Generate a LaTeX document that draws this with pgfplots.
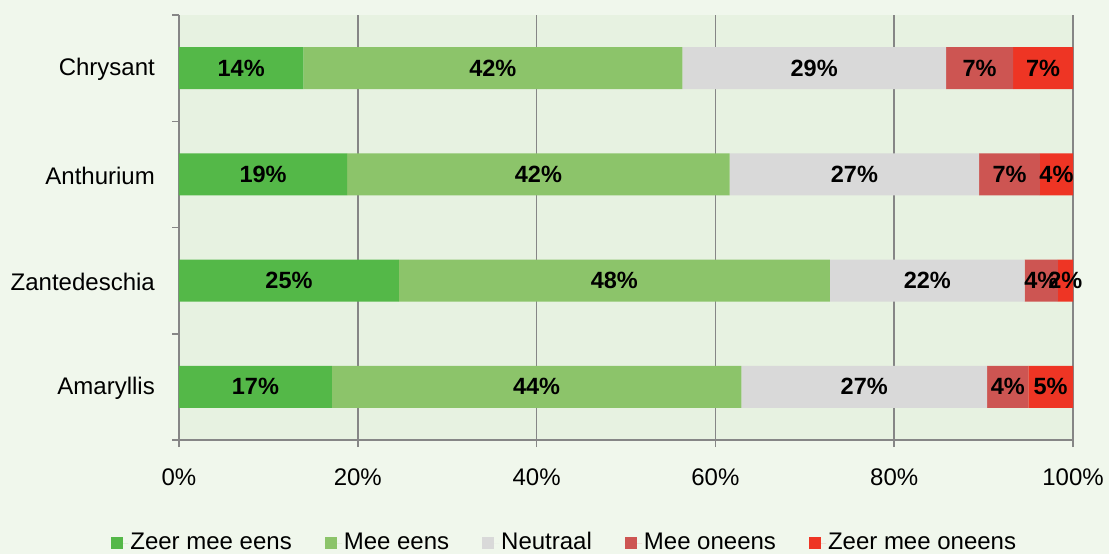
\documentclass[border=0pt]{standalone}
\usepackage{pgfplots}
\pgfplotsset{compat=1.18}
\usepackage{fontspec}
\setmainfont{Liberation Sans}
\definecolor{bgc}{RGB}{240,247,236}
\definecolor{plotbg}{RGB}{231,242,225}
\definecolor{c1}{RGB}{84,184,72}
\definecolor{c2}{RGB}{140,196,106}
\definecolor{c3}{RGB}{217,217,217}
\definecolor{c4}{RGB}{205,85,82}
\definecolor{c5}{RGB}{238,53,36}
\definecolor{axc}{RGB}{134,134,134}
\pgfplotsset{
  common/.style={
    scale only axis, width=894pt, height=425pt,
    at={(179pt,-440pt)}, anchor=south west,
    xmin=0, xmax=100, ymin=-0.5, ymax=3.5, enlargelimits=false,
  }
}
\begin{document}
\fontsize{24}{28}\selectfont
\begin{tikzpicture}
\fill[bgc] (0,0) rectangle (1109pt,-554pt);
\begin{axis}[common,
  xbar stacked, bar width=42pt,
  axis background/.style={fill=plotbg},
  axis x line*=bottom, axis y line*=left,
  axis line style={axc, line width=1.5pt},
  xtick={0,20,40,60,80,100},
  xticklabels={0\%,20\%,40\%,60\%,80\%,100\%},
  xmajorgrids, grid style={axc, line width=1.5pt},
  tick align=outside, major tick length=7pt,
  xtick style={draw=axc, line width=1.5pt},
  ytick={0,1,2,3},
  yticklabels={Amaryllis,Zantedeschia,Anthurium,Chrysant},
  ytick style={draw=none},
  extra y ticks={-0.5,0.5,1.5,2.5,3.5},
  extra y tick labels={},
  extra y tick style={ytick style={draw=axc, line width=1.5pt}, grid=none},
  tick label style={font=\fontsize{24}{28}\selectfont},
  xticklabel style={yshift=-14pt},
  yticklabel style={xshift=-9pt, yshift=-1.5pt},
  legend style={at={(0.4315,-0.2424)}, anchor=center, draw=none, fill=none,
    legend columns=5, font=\fontsize{24}{28}\selectfont,
    /tikz/every even column/.append style={column sep=31pt}},
  legend image code/.code={\fill[#1] (0pt,-6pt) rectangle (12pt,6pt); \path (0pt,0pt) -- (17pt,0pt);},
]
\addplot[fill=c1, draw=none] coordinates {(17.1,0) (24.6,1) (18.8,2) (13.9,3)};
\addplot[fill=c2, draw=none] coordinates {(45.8,0) (48.2,1) (42.8,2) (42.4,3)};
\addplot[fill=c3, draw=none] coordinates {(27.5,0) (21.8,1) (27.9,2) (29.5,3)};
\addplot[fill=c4, draw=none] coordinates {(4.6,0) (3.7,1) (6.8,2) (7.5,3)};
\addplot[fill=c5, draw=none] coordinates {(5.0,0) (1.7,1) (3.7,2) (6.7,3)};
\legend{Zeer mee eens, Mee eens, Neutraal, Mee oneens, Zeer mee oneens}
\end{axis}
\begin{axis}[common, hide axis]
\addplot[draw=none, mark=none, nodes near coords, point meta=explicit symbolic,
  every node near coord/.append style={anchor=center, font=\bfseries\fontsize{23.5}{28}\selectfont, text=black}]
  coordinates {
  (6.95,3) [14\%] (35.1,3) [42\%] (71.05,3) [29\%] (89.55,3) [7\%] (96.65,3) [7\%]
  (9.4,2) [19\%] (40.2,2) [42\%] (75.55,2) [27\%] (92.9,2) [7\%] (98.15,2) [4\%]
  (12.3,1) [25\%] (48.7,1) [48\%] (83.7,1) [22\%] (96.45,1) [4\%] (99.15,1) [2\%]
  (8.55,0) [17\%] (40.0,0) [44\%] (76.65,0) [27\%] (92.7,0) [4\%] (97.5,0) [5\%]
  };
\end{axis}
\pgfresetboundingbox
\useasboundingbox (0,0) rectangle (1109pt,-554pt);
\end{tikzpicture}
\end{document}
